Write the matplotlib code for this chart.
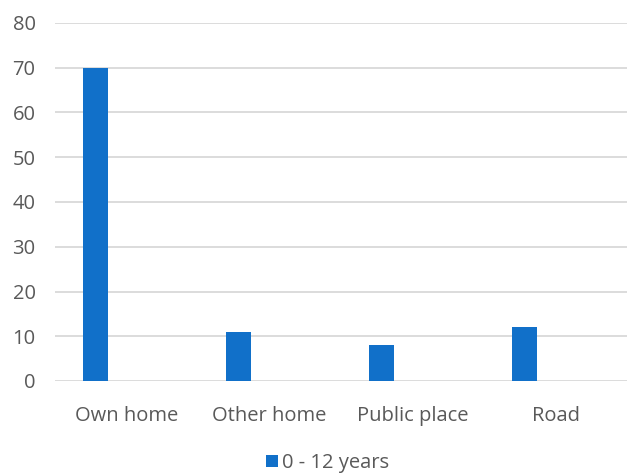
import numpy as np
import matplotlib
matplotlib.use("Agg")
import matplotlib.pyplot as plt

categories = ["Own home", "Other home", "Public place", "Road"]
values = [70, 11, 8, 12]
series_name = "0 - 12 years"

bar_color = "#1170C9"
grid_color = "#D9D9D9"
text_color = "#595959"

plt.rcParams['font.family'] = ['Open Sans', 'DejaVu Sans']

fig = plt.figure(figsize=(6.28, 4.74), dpi=100)
ax = fig.add_axes([55 / 628, 1 - 381 / 474, 572 / 628, 358 / 474])

x = np.arange(len(categories))
ax.bar(x - 0.217, values, width=0.175, color=bar_color, label=series_name, zorder=3)

ax.set_xlim(-0.5, len(categories) - 0.5)
ax.set_ylim(0, 80)
ax.set_yticks(np.arange(0, 81, 10))
ax.set_xticks(x)
ax.set_xticklabels(categories)
ax.grid(axis='y', color=grid_color, linewidth=1.3, zorder=0)
for s in ax.spines.values():
    s.set_visible(False)
ax.tick_params(axis='both', length=0, colors=text_color, labelsize=14.5)
ax.tick_params(axis='y', pad=14)
ax.tick_params(axis='x', pad=18)

fig.legend(loc='center', bbox_to_anchor=(328 / 628, 1 - 463 / 474), frameon=False,
           fontsize=14.5, handlelength=0.6, handleheight=0.6, handletextpad=0.2,
           labelcolor=text_color)

fig.savefig("out.png", dpi=100)
